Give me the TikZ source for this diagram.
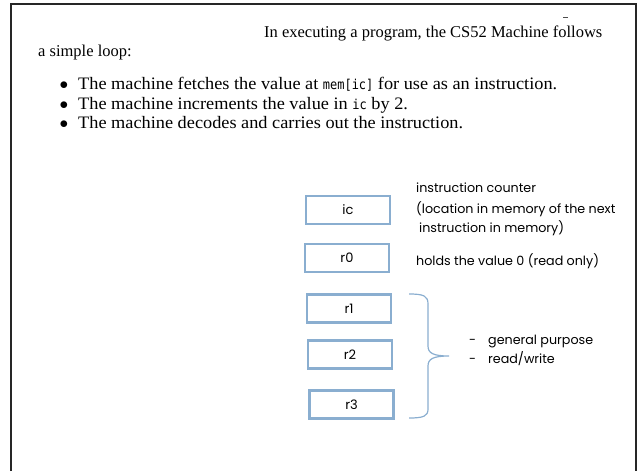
\documentclass[tikz,border=0pt]{standalone}
\usepackage{fontspec}
\setmainfont{Liberation Serif}
\newfontfamily\bodyfont[FakeStretch=1.045]{Liberation Serif}
\newfontfamily\gothic{Poppins}
\newfontfamily\monofont[FakeStretch=0.88]{DejaVu Sans Mono}
\newcommand\code[1]{{\monofont\fontsize{13.6}{15}\selectfont #1}}
\definecolor{regblue}{HTML}{8AAED0}
\begin{document}
\begin{tikzpicture}[x=1pt,y=-1pt,
  serif/.style={anchor=base west,inner sep=0pt,font=\fontsize{16.5}{19}\selectfont},
  body/.style={anchor=base west,inner sep=0pt,font=\bodyfont\fontsize{17.5}{20}\selectfont},
  note/.style={anchor=base west,inner sep=0pt,font=\gothic\fontsize{12.7}{16}\selectfont},
  reg/.style={draw=regblue,line width=2.2pt,fill=white,minimum width=84pt,minimum height=28pt,inner sep=0pt,font=\gothic\fontsize{13}{16}\selectfont},
  bullet/.style={anchor=base,inner sep=0pt,font=\fontsize{17.5}{20}\selectfont}]
\useasboundingbox (0,0) rectangle (639,471);
% page frame, open at the bottom
\draw[line width=2.5pt,black!85] (11,471) -- (11,4) -- (636,4) -- (636,471);
% small stray mark above the heading
\draw[line width=0.8pt,black!70] (563,17) -- (568,17);

% heading text
\node[serif] (head1) at (264,37) {In executing a program, the CS52 Machine follows};
\node[serif] (head2) at (38,56) {a simple loop:};
\node[bullet] (b1) at (64,89) {$\bullet$};
\node[bullet] (b2) at (64,109) {$\bullet$};
\node[bullet] (b3) at (64,128) {$\bullet$};
\node[body] (t1) at (78,89) {The machine fetches the value at \code{mem[ic]} for use as an instruction.};
\node[body] (t2) at (78,109) {The machine increments the value in \code{ic} by 2.};
\node[body] (t3) at (78,128) {The machine decodes and carries out the instruction.};

% registers
\node[reg] (ic) at (348,210) {ic};
\node[reg] (r0) at (347,258) {r0};
\node[reg] (r1) at (349,308.5) {r1};
\node[reg] (r2) at (350,354.5) {r2};
\node[reg] (r3) at (351.5,404.5) {r3};

% register descriptions
\node[note] (icd1) at (416,192) {instruction counter};
\node[note] (icd2) at (416,213) {(location in memory of the next};
\node[note] (icd3) at (419,232) {instruction in memory)};
\node[note] (r0d) at (416,265) {holds the value 0 (read only)};

% brace grouping the general purpose registers
\coordinate (bt) at (409,294);
\coordinate (bm) at (449,356);
\coordinate (bb) at (409,418);
\draw[regblue,line width=1.2pt]
  (bt) .. controls (424,294) and (428,296) .. (428,304) -- (428,346)
  .. controls (428,353) and (433,356) .. (bm)
  .. controls (433,356) and (428,359) .. (428,366) -- (428,409)
  .. controls (428,416) and (424,418) .. (bb);
\node[note] (g1) at (469,344) {-\hspace{12pt}general purpose};
\node[note] (g2) at (469,363) {-\hspace{12pt}read/write};
\end{tikzpicture}
\end{document}
